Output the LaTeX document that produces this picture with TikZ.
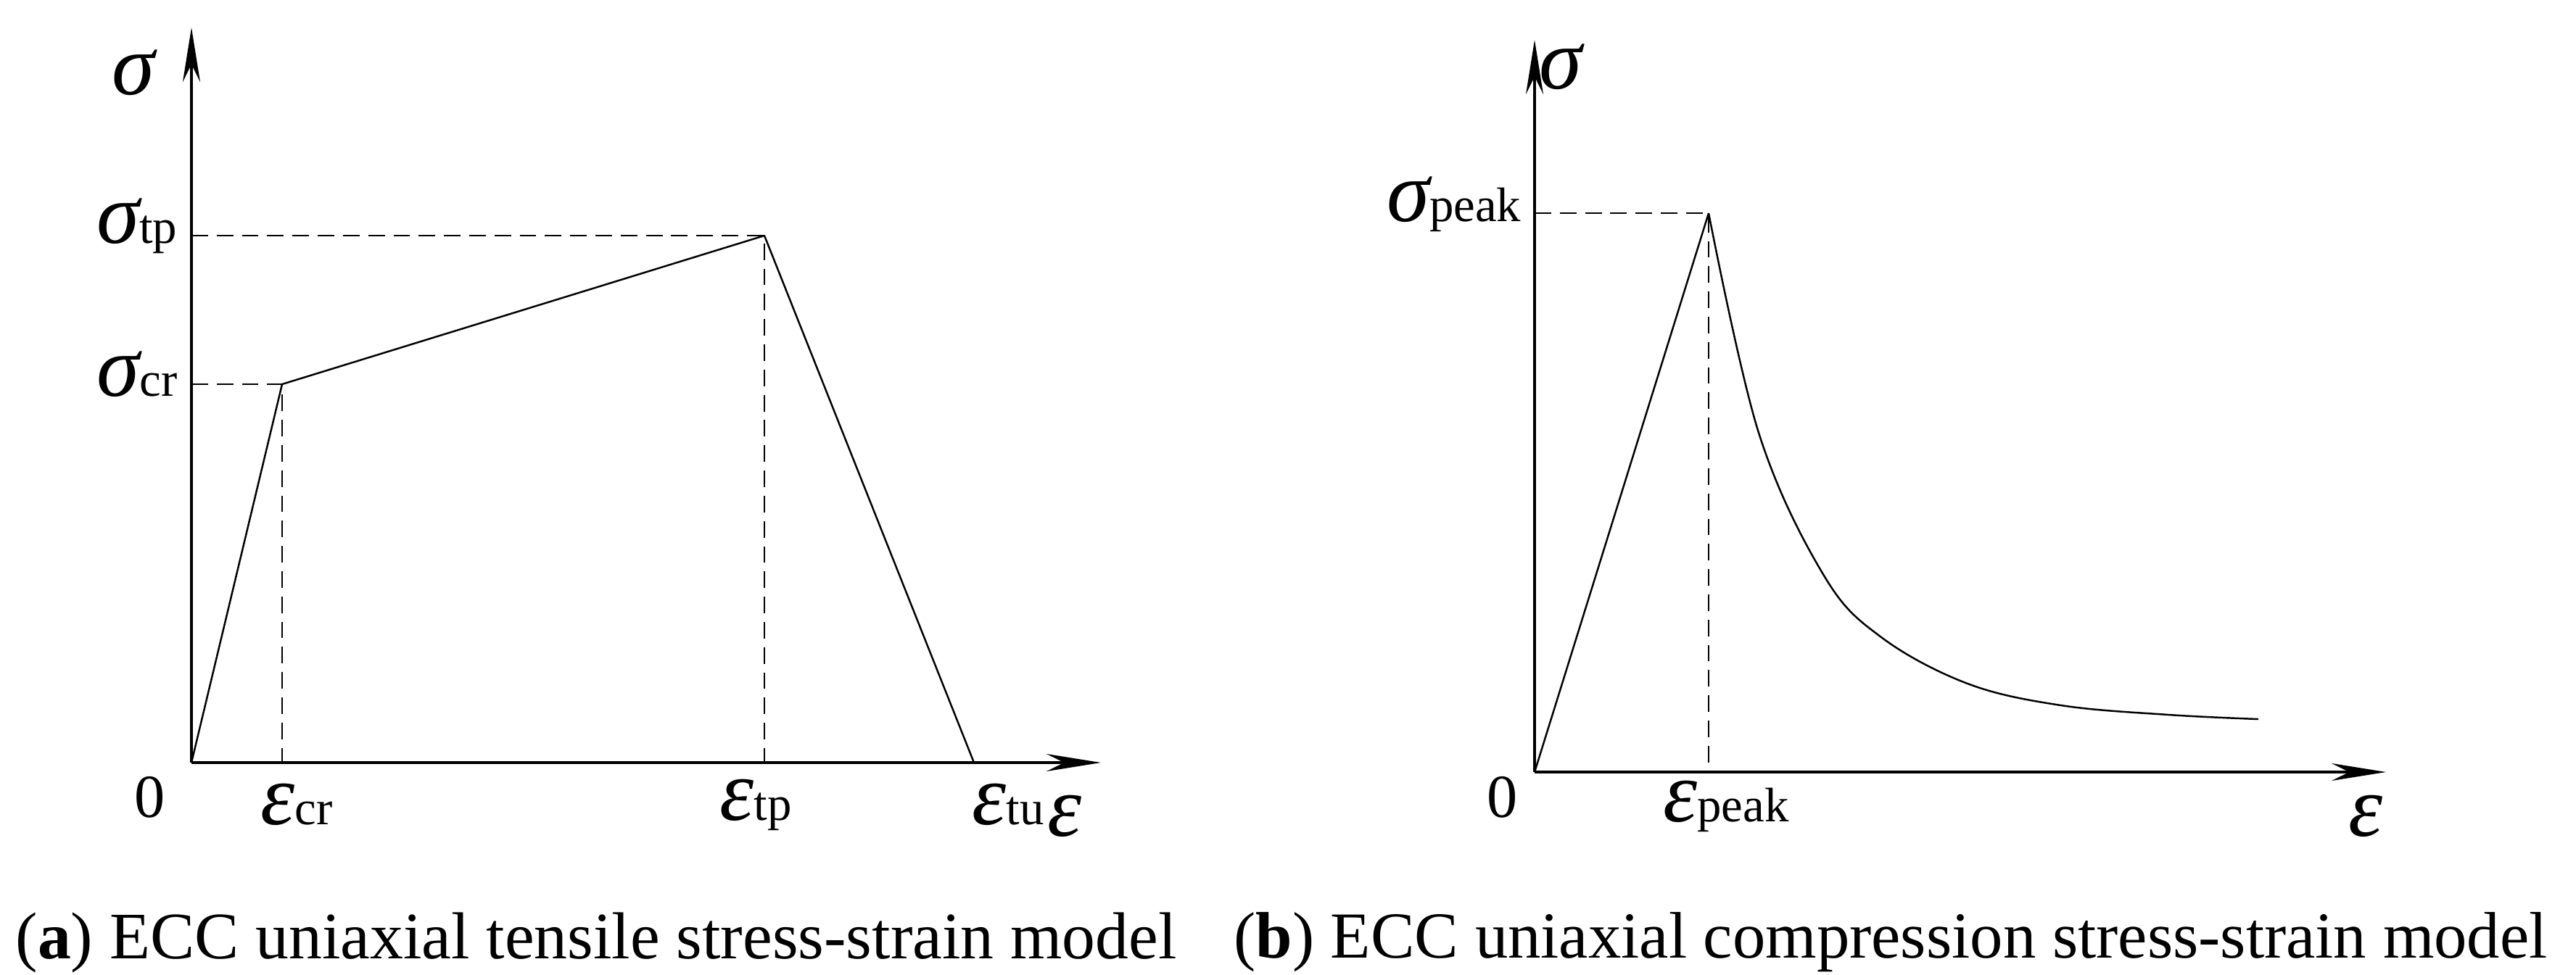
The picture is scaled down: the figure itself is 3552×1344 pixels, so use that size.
\documentclass[tikz,border=0pt]{standalone}
\usepackage{fontspec}
\setmainfont{Liberation Serif}
\usetikzlibrary{arrows.meta}
\begin{document}
\begin{tikzpicture}[x=0.01cm,y=-0.01cm,
  axis/.style={line width=1.1pt,-{Stealth[length=0.75cm,width=0.24cm]}},
  curve/.style={line width=0.7pt,line join=round},
  guide/.style={line width=0.7pt,dash pattern=on 6.5pt off 3.4pt},
  big/.style={font=\fontsize{34}{40}\selectfont\itshape,inner sep=0pt},
  zero/.style={font=\fontsize{24}{28}\selectfont,inner sep=0pt},
  captext/.style={inner sep=0pt}]
\useasboundingbox (0,0) rectangle (3552,1344);
% left
\coordinate (O1) at (264,1052);
\coordinate (Y1) at (264,38);
\coordinate (X1) at (1518,1052);
\coordinate (cr) at (389,530);
\coordinate (tp) at (1054,325);
\coordinate (tu) at (1343,1052);
\coordinate (crx) at (389,1052);
\coordinate (tpx) at (1054,1052);
\coordinate (cry) at (264,530);
\coordinate (tpy) at (264,325);
\draw[axis] (O1) -- (Y1);
\draw[axis] (O1) -- (X1);
\draw[curve] (O1) -- (cr) -- (tp) -- (tu);
\draw[guide] (cry) -- (cr) -- (crx);
\draw[guide] (tpy) -- (tp) -- (tpx);
\node[big] (s1) at (184,100) {σ};
\node[big,anchor=east] (stp) at (245,312) {σ\fontsize{19}{22}\selectfont\upshape tp};
\node[big,anchor=east] (scr) at (245,516) {σ\fontsize{19}{22}\selectfont\upshape cr};
\node[zero] (z1) at (207,1100) {0};
\node[big] (ecr) at (409,1110) {ε\fontsize{19}{22}\selectfont\upshape cr};
\node[big] (etp) at (1042,1110) {ε\fontsize{19}{22}\selectfont\upshape tp};
\node[big] (etu) at (1390,1110) {ε\fontsize{19}{22}\selectfont\upshape tu};
\node[big] (e1) at (1468,1126) {ε};
% right
\coordinate (O2) at (2116,1065);
\coordinate (Y2) at (2116,55);
\coordinate (X2) at (3290,1065);
\coordinate (pk) at (2356,294);
\coordinate (pkx) at (2356,1065);
\coordinate (pky) at (2116,294);
\coordinate (end) at (3114,992);
\draw[axis] (O2) -- (Y2);
\draw[axis] (O2) -- (X2);
\draw[curve] (O2) -- (pk);
\draw[curve] plot[smooth,tension=0.6] coordinates {(2356,294) (2425,597) (2515,794) (2594,879) (2713,943) (2842,973) (2990,986) (3114,992)};
\draw[guide] (pky) -- (pk) -- (pkx);
\node[big] (s2) at (2152,92) {σ};
\node[big,anchor=east] (spk) at (2098,282) {σ\fontsize{19}{22}\selectfont\upshape peak};
\node[zero] (z2) at (2072,1100) {0};
\node[big] (epk) at (2380,1112) {ε\fontsize{19}{22}\selectfont\upshape peak};
\node[big] (e2) at (3262,1126) {ε};
% captions
\node[captext] (ca) at (822,1300) {\resizebox{16.0cm}{!}{(\textbf{a}) ECC uniaxial tensile stress-strain model}};
\node[captext] (cb) at (2607,1300) {\resizebox{18.1cm}{!}{(\textbf{b}) ECC uniaxial compression stress-strain model}};
\end{tikzpicture}
\end{document}
